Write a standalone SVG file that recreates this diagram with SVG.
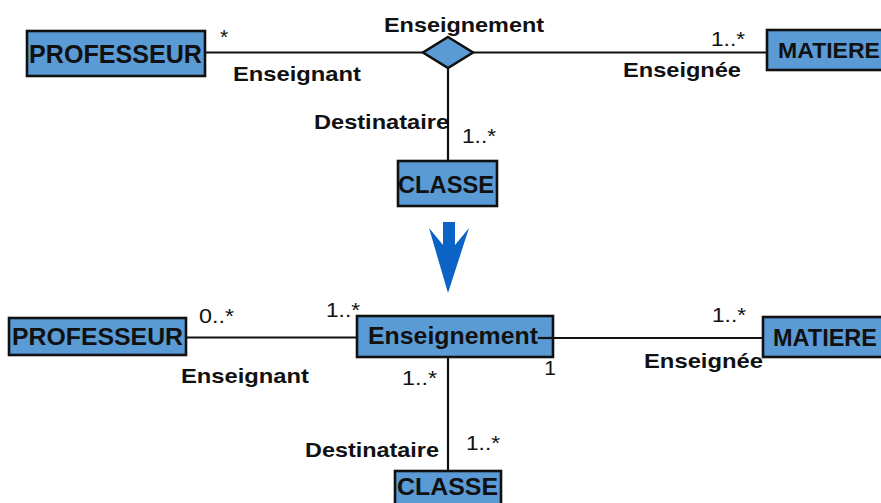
<svg xmlns="http://www.w3.org/2000/svg" width="881" height="503" viewBox="0 0 881 503">
  <style>
    .box { fill: #5b9bd5; stroke: #111; stroke-width: 2.6; }
    .link { stroke: #111; stroke-width: 2.2; fill: none; }
    .name { font-family: "Liberation Sans", Arial, sans-serif; font-weight: bold; fill: #111; }
    .role { font-family: "Liberation Sans", Arial, sans-serif; font-weight: bold; font-size: 21px; fill: #111; }
    .mult { font-family: "Liberation Sans", Arial, sans-serif; font-size: 21px; fill: #111; }
  </style>
  <rect width="881" height="503" fill="#fff"/>

  <!-- Associations (n-ary form, then reified class form) -->
  <g id="connectors">
    <line class="link" x1="205" y1="52.5" x2="423" y2="52.5"/>
    <line class="link" x1="473" y1="52.5" x2="767" y2="52.5"/>
    <line class="link" x1="448" y1="68" x2="448" y2="161"/>
    <line class="link" x1="186" y1="337.5" x2="357" y2="337.5"/>
    <line class="link" x1="538" y1="338" x2="763" y2="338"/>
    <line class="link" x1="448" y1="357" x2="448" y2="471"/>
  </g>

  <!-- Association labels -->
  <g id="labels">
    <text class="mult" x="220" y="44">*</text>
    <text class="role" x="233" y="81" textLength="128" lengthAdjust="spacingAndGlyphs">Enseignant</text>
    <text class="role" x="384" y="32" textLength="160" lengthAdjust="spacingAndGlyphs">Enseignement</text>
    <text class="mult" x="711" y="45.5" textLength="34" lengthAdjust="spacingAndGlyphs">1..*</text>
    <text class="role" x="623" y="77" textLength="118" lengthAdjust="spacingAndGlyphs">Enseignée</text>
    <text class="role" x="314" y="129" textLength="135" lengthAdjust="spacingAndGlyphs">Destinataire</text>
    <text class="mult" x="462" y="143" textLength="34" lengthAdjust="spacingAndGlyphs">1..*</text>

    <text class="mult" x="199" y="323" textLength="35" lengthAdjust="spacingAndGlyphs">0..*</text>
    <text class="mult" x="326" y="317" textLength="34" lengthAdjust="spacingAndGlyphs">1..*</text>
    <text class="role" x="181" y="383" textLength="128" lengthAdjust="spacingAndGlyphs">Enseignant</text>
    <text class="mult" x="712" y="322" textLength="34" lengthAdjust="spacingAndGlyphs">1..*</text>
    <text class="role" x="644" y="368" textLength="119" lengthAdjust="spacingAndGlyphs">Enseignée</text>
    <text class="mult" x="556" y="375" text-anchor="end">1</text>
    <text class="mult" x="402" y="385" textLength="35" lengthAdjust="spacingAndGlyphs">1..*</text>
    <text class="role" x="305" y="457" textLength="134" lengthAdjust="spacingAndGlyphs">Destinataire</text>
    <text class="mult" x="466" y="450" textLength="34" lengthAdjust="spacingAndGlyphs">1..*</text>
  </g>

  <!-- Upper model -->
  <g id="professeur-1">
    <rect class="box" x="27" y="31" width="178" height="45"/>
    <text class="name" x="29" y="63" font-size="25" textLength="173" lengthAdjust="spacingAndGlyphs">PROFESSEUR</text>
  </g>
  <g id="enseignement-assoc">
    <polygon class="box" points="448,37 473,52.5 448,68 423,52.5" stroke-width="2.4"/>
  </g>
  <g id="matiere-1">
    <rect class="box" x="767" y="30" width="118" height="40"/>
    <text class="name" x="778" y="58" font-size="22" textLength="102" lengthAdjust="spacingAndGlyphs">MATIERE</text>
  </g>
  <g id="classe-1">
    <rect class="box" x="398" y="161" width="99" height="45"/>
    <text class="name" x="398" y="193" font-size="24" textLength="96" lengthAdjust="spacingAndGlyphs">CLASSE</text>
  </g>

  <!-- Transformation arrow -->
  <g id="transform-arrow">
    <polygon points="443,222 455,222 455,245 469,228 448,293 429,228 443,245" fill="#0b63c5"/>
  </g>

  <!-- Lower model -->
  <g id="professeur-2">
    <rect class="box" x="9" y="318" width="177" height="37"/>
    <text class="name" x="12" y="345" font-size="24" textLength="171" lengthAdjust="spacingAndGlyphs">PROFESSEUR</text>
  </g>
  <g id="enseignement-class">
    <rect class="box" x="357" y="316" width="196" height="41"/>
    <text class="name" x="368" y="344" font-size="24" textLength="170" lengthAdjust="spacingAndGlyphs">Enseignement</text>
    <line class="link" x1="538" y1="338" x2="553" y2="338"/>
  </g>
  <g id="matiere-2">
    <rect class="box" x="763" y="317" width="122" height="40"/>
    <text class="name" x="773" y="346" font-size="23" textLength="104" lengthAdjust="spacingAndGlyphs">MATIERE</text>
  </g>
  <g id="classe-2">
    <rect class="box" x="395" y="471" width="106" height="40"/>
    <text class="name" x="397" y="495" font-size="23" textLength="101" lengthAdjust="spacingAndGlyphs">CLASSE</text>
  </g>
</svg>
